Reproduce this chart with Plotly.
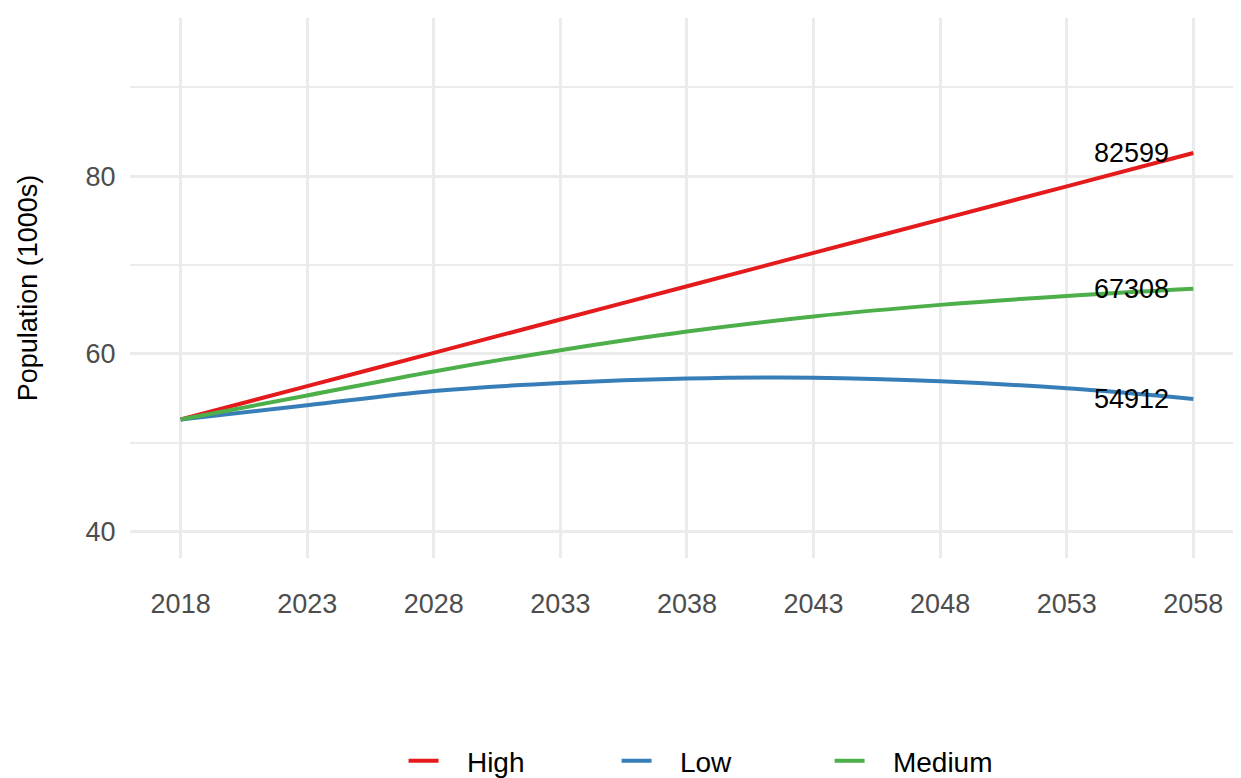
import plotly.graph_objects as go

years = [2018, 2023, 2028, 2033, 2038, 2043, 2048, 2053, 2058]
high = [52.6, 56.35, 60.1, 63.85, 67.6, 71.35, 75.1, 78.85, 82.599]
low = [52.6, 54.2, 55.8, 56.7, 57.2, 57.3, 56.9, 56.1, 54.912]
medium = [52.6, 55.3, 58.0, 60.4, 62.5, 64.2, 65.5, 66.5, 67.308]

series = [("High", high, "#E41A1C"), ("Low", low, "#377EB8"), ("Medium", medium, "#4DAF4A")]

fig = go.Figure()
for name, vals, col in series:
    fig.add_trace(go.Scatter(x=years, y=vals, mode="lines", name="   " + name,
                             line=dict(color=col, width=4, shape="spline")))
    fig.add_annotation(x=2057.1, y=vals[-1], text=str(round(vals[-1] * 1000)),
                       xanchor="right", yanchor="middle", showarrow=False,
                       font=dict(size=27, color="black"))

grid = "#EBEBEB"
fig.update_layout(
    width=1241, height=778, plot_bgcolor="white", paper_bgcolor="white",
    font=dict(family="Liberation Sans, Arial", size=27, color="#4D4D4D"),
    margin=dict(l=122, r=0, t=10, b=218),
    legend=dict(orientation="h", x=0.53, xanchor="center", y=-0.33, yanchor="top",
                font=dict(size=28, color="black"), entrywidth=168),
    xaxis=dict(range=[2016.0, 2060.2], tickvals=years, showgrid=True, gridcolor=grid,
               gridwidth=3, zeroline=False, ticks="outside", ticklen=22, tickcolor="white"),
    yaxis=dict(range=[37, 97.8], tickvals=[40, 60, 80], showgrid=True, gridcolor=grid,
               gridwidth=3, zeroline=False, ticks="outside", ticklen=8, tickcolor="white",
               minor=dict(tickvals=[50, 70, 90], showgrid=True, gridcolor=grid, gridwidth=2),
               title=dict(text="Population (1000s)", font=dict(size=27, color="black"), standoff=40)),
)
fig.write_html("out.html")
